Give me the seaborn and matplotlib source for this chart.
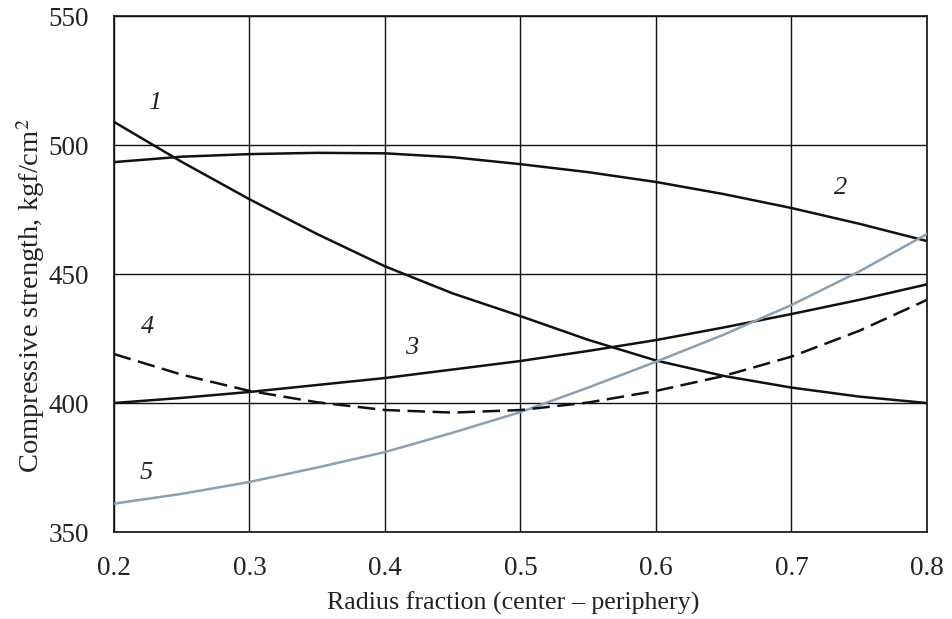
import matplotlib
matplotlib.use("Agg")
import matplotlib.pyplot as plt
import seaborn as sns
import pandas as pd

x = [0.20, 0.25, 0.30, 0.35, 0.40, 0.45, 0.50, 0.55, 0.60, 0.65, 0.70, 0.75, 0.80]
curve1 = [509, 493.5, 479, 465.5, 453, 442.5, 433.7, 424.5, 416.5, 410.5, 406, 402.5, 400]
curve2 = [493.4, 495.5, 496.5, 497, 496.8, 495.3, 492.6, 489.5, 485.7, 481, 475.6, 469.5, 462.8]
curve3 = [400, 402, 404.3, 407, 409.7, 413, 416.3, 420.2, 424.4, 429.3, 434.5, 440, 446]
curve4 = [419, 411, 404.7, 400.3, 397.3, 396.3, 397.3, 400.2, 404.7, 410.5, 418, 428, 440]
curve5 = [361, 364.8, 369.4, 375, 381, 388.5, 396.5, 406, 416, 426.5, 438, 451, 465.5]

labels = ["1", "2", "3", "4", "5"]
label_x = [0.230, 0.736, 0.420, 0.225, 0.224]
label_y = [516.5, 483.5, 421.5, 429.5, 373.0]

x_ticks = [0.2, 0.3, 0.4, 0.5, 0.6, 0.7, 0.8]
y_ticks = [350, 400, 450, 500, 550]

sns.set_style("white")
plt.rcParams['font.family'] = ['Liberation Serif', 'DejaVu Serif']
plt.rcParams['mathtext.fontset'] = 'stix'

fig = plt.figure(figsize=(9.52, 6.19), dpi=100)
ax = fig.add_axes([0.1197, 0.1405, 0.854, 0.8335])

df = pd.DataFrame({"x": x, "c1": curve1, "c2": curve2, "c3": curve3, "c4": curve4, "c5": curve5})

styles = {
    "c1": dict(color="#111111", lw=1.8),
    "c2": dict(color="#111111", lw=1.8),
    "c3": dict(color="#111111", lw=1.8),
    "c4": dict(color="#111111", lw=1.8, dashes=(7, 3)),
    "c5": dict(color="#8ba0b2", lw=1.8),
}
for key in ["c1", "c2", "c3", "c5", "c4"]:
    st = styles[key]
    sns.lineplot(data=df, x="x", y=key, ax=ax, color=st["color"], linewidth=st["lw"], zorder=3)
    if "dashes" in st:
        ax.lines[-1].set_dashes(st["dashes"])

for t, lx, ly in zip(labels, label_x, label_y):
    ax.text(lx, ly, t, fontsize=19, style="italic", ha="center", va="center", color="#222222")

ax.set_xlim(0.2, 0.8)
ax.set_ylim(350, 550)
ax.set_xticks(x_ticks)
ax.set_yticks(y_ticks)
ax.set_xticklabels([f"{v:.1f}" for v in x_ticks])
ax.set_yticklabels([str(v) for v in y_ticks])
ax.grid(True, color="#111111", linewidth=1.0)
ax.set_axisbelow(True)
for s in ax.spines.values():
    s.set_color("#111111")
    s.set_linewidth(1.2)
ax.tick_params(axis="x", labelsize=19.5, length=0, pad=17, colors="#222222")
ax.tick_params(axis="y", labelsize=19.5, length=0, pad=18, colors="#222222")
ax.set_xlabel("Radius fraction (center – periphery)", fontsize=18.7, color="#222222")
ax.set_ylabel("Compressive strength, kgf/cm$^2$", fontsize=20.5, color="#222222")
ax.xaxis.set_label_coords(0.4915, -0.139)
ax.yaxis.set_label_coords(-0.103, 0.459)
ax.xaxis.label.set_va("center")
ax.yaxis.label.set_va("center")

fig.savefig("out.png", dpi=100)
